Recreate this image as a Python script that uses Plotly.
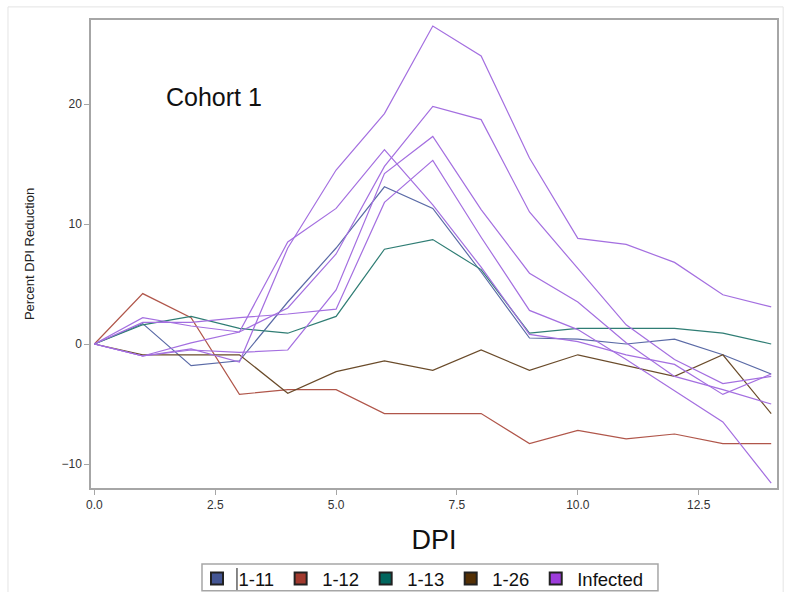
import plotly.graph_objects as go

# Days post infection
dpi = list(range(15))

# Percent DPI reduction per animal (cohort 1)
s_1_11 = [0, 1.7, -1.8, -1.4, 3.5, 8.0, 13.1, 11.3, 6.0, 0.5, 0.4, 0.0, 0.4, -0.9, -2.5]
s_1_12 = [0, 4.2, 2.2, -4.2, -3.8, -3.8, -5.8, -5.8, -5.8, -8.3, -7.2, -7.9, -7.5, -8.3, -8.3]
s_1_13 = [0, 1.6, 2.3, 1.3, 0.9, 2.3, 7.9, 8.7, 6.2, 0.9, 1.3, 1.3, 1.3, 0.9, 0.0]
s_1_26 = [0, -0.9, -0.9, -0.9, -4.1, -2.3, -1.4, -2.2, -0.5, -2.2, -0.9, -1.8, -2.7, -0.9, -5.8]

infected = [
    [0, -1.0, -0.4, -1.5, 8.0, 14.5, 19.2, 26.5, 24.0, 15.5, 8.8, 8.3, 6.8, 4.1, 3.1],
    [0, -1.0, 0.1, 1.0, 8.5, 11.3, 16.2, 11.6, 6.4, 0.8, 0.2, -0.9, -1.7, -4.2, -2.5],
    [0, 2.2, 1.5, 1.0, 3.0, 7.5, 14.8, 19.8, 18.7, 11.0, 6.3, 1.6, -1.3, -3.3, -2.7],
    [0, -1.0, -0.5, -0.7, -0.5, 4.5, 14.2, 17.3, 11.2, 5.9, 3.5, 0.1, -2.7, -3.8, -5.0],
    [0, 1.8, 1.8, 2.2, 2.5, 2.9, 11.8, 15.3, 8.9, 2.8, 1.2, -1.3, -3.9, -6.5, -11.6],
]

groups = ["1-11", "1-12", "1-13", "1-26", "Infected"]
colors = ["#445694", "#A23A2E", "#01665E", "#543005", "#9D3CDB"]
line_colors = ["#5a6aa6", "#b0564a", "#2f7d74", "#6a4b2a", "#a46fe0"]

x_ticks = [0, 2.5, 5, 7.5, 10, 12.5]
y_ticks = [-10, 0, 10, 20]

fig = go.Figure()

series = [(s_1_11, 0), (s_1_12, 1), (s_1_13, 2), (s_1_26, 3)] + [(s, 4) for s in infected]
for vals, gi in series:
    fig.add_trace(go.Scatter(
        x=dpi, y=vals, mode="lines",
        line=dict(color=line_colors[gi], width=1.2),
        showlegend=False, hoverinfo="skip",
    ))

# Square swatches for the legend
for name, col in zip(groups, colors):
    fig.add_trace(go.Scatter(
        x=[None], y=[None], mode="markers", name=name,
        marker=dict(symbol="square", size=15, color=col,
                    line=dict(color="#222222", width=1.2)),
    ))

axis_font = dict(family="Liberation Sans, Arial", size=12, color="#333333")
frame = dict(color="#e4e4e4", width=1)

fig.update_layout(
    width=787, height=592,
    paper_bgcolor="white", plot_bgcolor="white",
    margin=dict(l=91, r=10, t=20, b=104, autoexpand=False),
    font=dict(family="Liberation Sans, Arial"),
    xaxis=dict(
        range=[-0.07, 14.12], tickvals=x_ticks, tickformat=".1f",
        showgrid=False, zeroline=False, automargin=False,
        showline=True, mirror=True, linecolor="#a6a6a6", linewidth=1.5,
        ticks="outside", ticklen=5, tickcolor="#a6a6a6", tickfont=axis_font,
        title=dict(text="DPI", font=dict(size=27, color="#111111"), standoff=19),
    ),
    yaxis=dict(
        range=[-12.0, 27.0], tickvals=y_ticks,
        showgrid=False, zeroline=False, automargin=False,
        showline=True, mirror=True, linecolor="#a6a6a6", linewidth=1.5,
        ticks="outside", ticklen=5, tickcolor="#a6a6a6", tickfont=axis_font,
        title=dict(text="Percent DPI Reduction", font=dict(size=13, color="#222222"), standoff=24),
    ),
    legend=dict(
        orientation="h", x=0.1523, xanchor="left", xref="paper",
        y=0.054, yanchor="top", yref="container",
        borderwidth=0, bgcolor="rgba(0,0,0,0)",
        font=dict(size=18.5, color="#111111"), itemsizing="constant",
        tracegroupgap=0, itemwidth=33,
    ),
    annotations=[dict(
        x=0.107, y=0.835, xref="paper", yref="paper", xanchor="left", yanchor="middle",
        text="Cohort 1", showarrow=False, font=dict(size=25, color="#111111"),
    )],
    shapes=[
        dict(type="line", xref="paper", yref="paper", x0=-0.121, x1=1.009, y0=1.028, y1=1.028, line=frame),
        dict(type="line", xref="paper", yref="paper", x0=-0.121, x1=-0.121, y0=1.028, y1=-0.24, line=frame),
        dict(type="line", xref="paper", yref="paper", x0=1.009, x1=1.009, y0=1.028, y1=-0.24, line=frame),
        # legend box
        dict(type="rect", xref="paper", yref="paper", x0=0.1618, x1=0.8265, y0=-0.1624, y1=-0.2195,
             line=dict(color="#a6a6a6", width=1.5), fillcolor="rgba(0,0,0,0)"),
        # text cursor mark in the legend
        dict(type="line", xref="paper", yref="paper", x0=0.2128, x1=0.2128, y0=-0.171, y1=-0.218,
             line=dict(color="#111111", width=1)),
    ],
)

fig.write_html("out.html")
